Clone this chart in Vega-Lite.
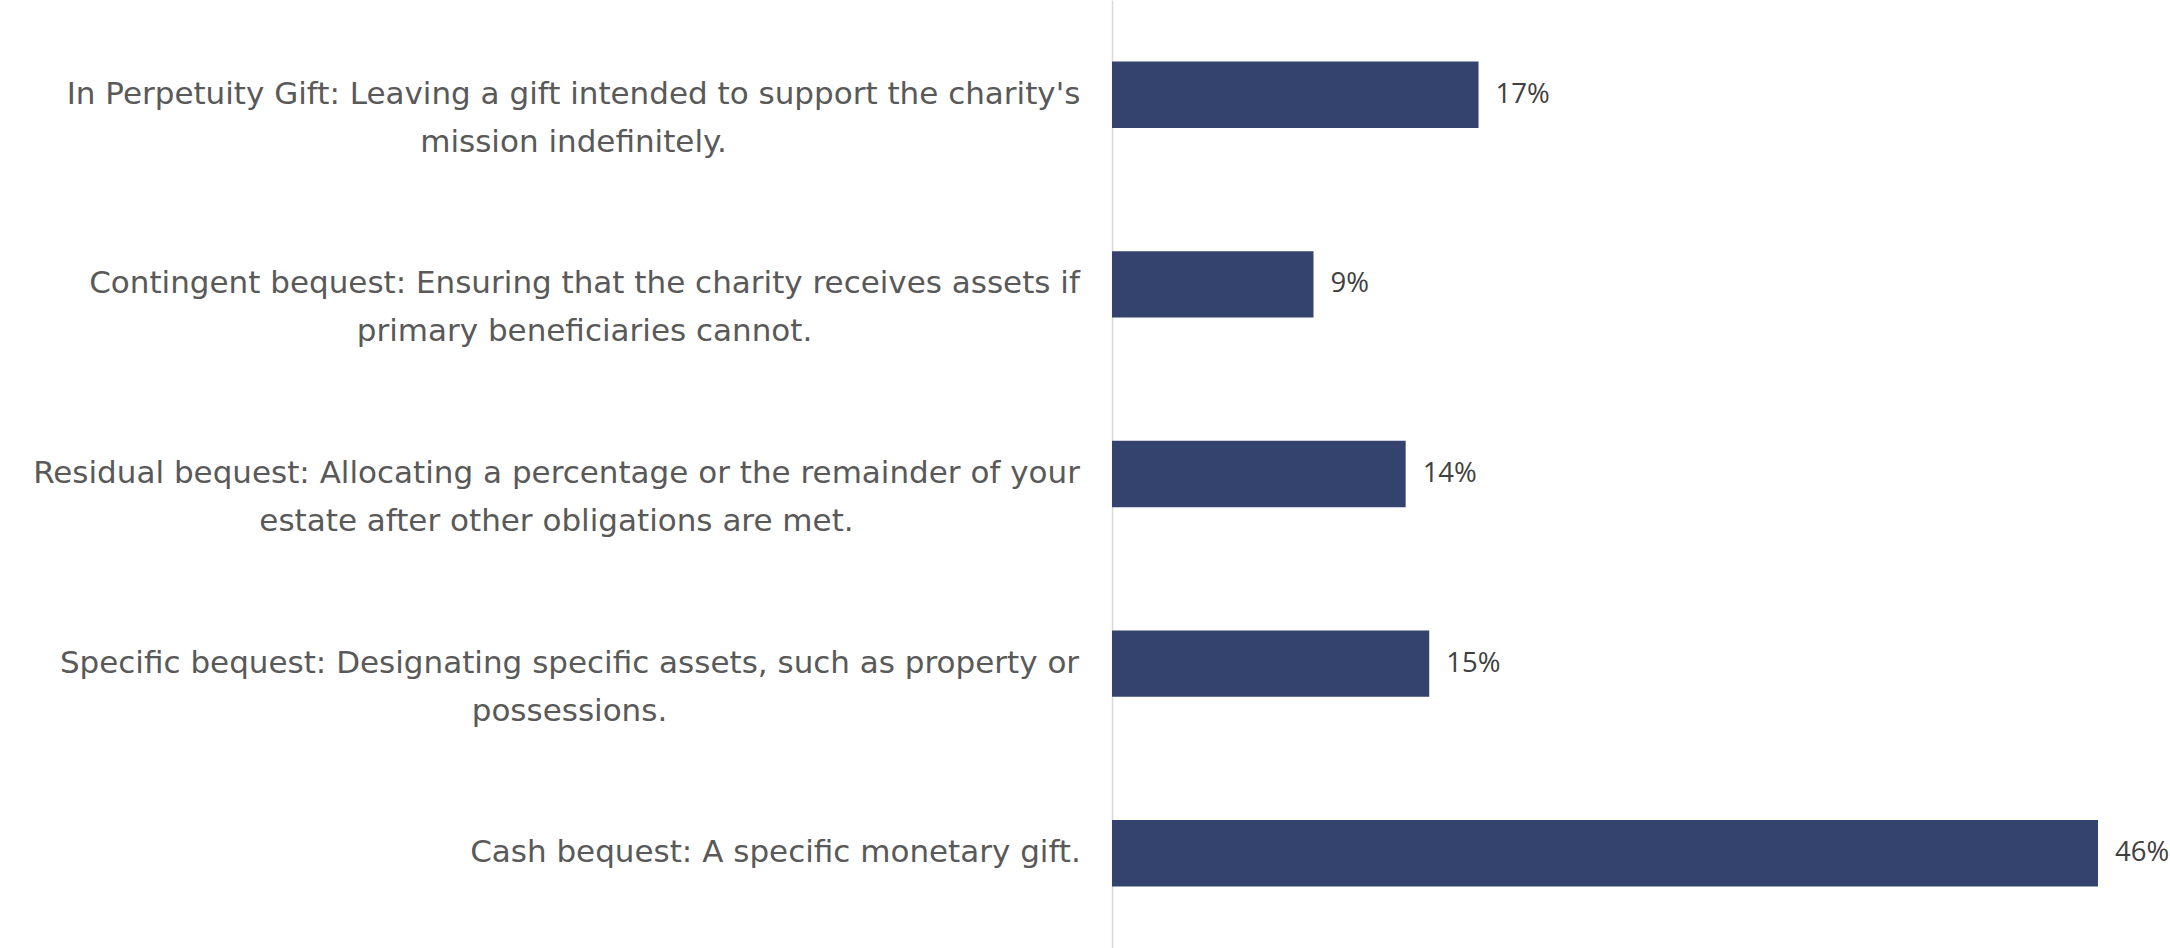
{
  "$schema": "https://vega.github.io/schema/vega-lite/v6.json",
  "width": 1058,
  "height": 948,
  "autosize": {"type": "none"},
  "padding": {"left": 1112, "top": 0, "right": 0, "bottom": 0},
  "background": "white",
  "config": {"view": {"stroke": null}},
  "data": {
    "values": [
      {"label": "In Perpetuity Gift: Leaving a gift intended to support the charity's|mission indefinitely.", "value": 0.171},
      {"label": "Contingent bequest: Ensuring that the charity receives assets if|primary beneficiaries cannot.", "value": 0.094},
      {"label": "Residual bequest: Allocating a percentage or the remainder of your|estate after other obligations are met.", "value": 0.137},
      {"label": "Specific bequest: Designating specific assets, such as property or|possessions.", "value": 0.148},
      {"label": "Cash bequest: A specific monetary gift.", "value": 0.46}
    ]
  },
  "encoding": {
    "y": {
      "field": "label",
      "type": "nominal",
      "sort": null,
      "scale": {"paddingInner": 0.65, "paddingOuter": 0.325},
      "axis": {
        "title": null,
        "ticks": false,
        "domain": true,
        "domainColor": "#d9d9d9",
        "domainWidth": 1.5,
        "labelExpr": "split(datum.label, '|')",
        "labelFont": "DejaVu Sans",
        "labelFontSize": 31,
        "labelColor": "#595959",
        "labelLineHeight": 48,
        "labelLimit": 0,
        "labelAlign": "center",
        "labelBaseline": "middle",
        "labelPadding": {
          "condition": [
            {"test": "indexof(datum.value, 'In Perpetuity') == 0", "value": 539},
            {"test": "indexof(datum.value, 'Contingent') == 0", "value": 528},
            {"test": "indexof(datum.value, 'Residual') == 0", "value": 556},
            {"test": "indexof(datum.value, 'Specific') == 0", "value": 543}
          ],
          "value": 337
        }
      }
    },
    "x": {
      "field": "value",
      "type": "quantitative",
      "scale": {"domain": [0, 0.4936], "nice": false},
      "axis": null
    }
  },
  "layer": [
    {"mark": {"type": "bar", "color": "#34436e"}},
    {
      "mark": {"type": "text", "align": "left", "baseline": "middle", "dx": 17, "font": "Open Sans", "fontSize": 27.5, "color": "#404040"},
      "encoding": {"text": {"field": "value", "type": "quantitative", "format": ".0%"}}
    }
  ]
}
